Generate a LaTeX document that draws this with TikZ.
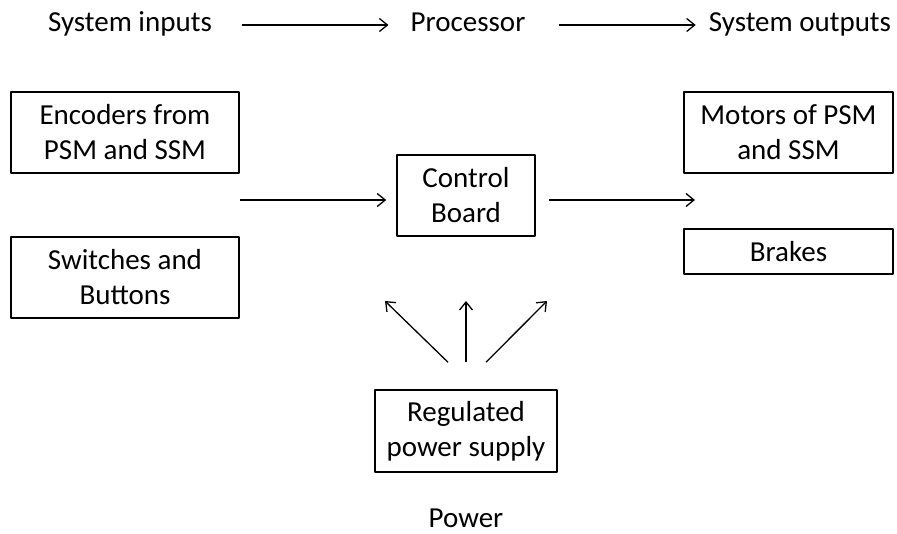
\documentclass[tikz,border=0pt]{standalone}
\usepackage{fontspec}
\setmainfont{Carlito}
\usetikzlibrary{arrows.meta}
\begin{document}
\begin{tikzpicture}[x=1pt,y=-1pt,line join=round,>={Straight Barb[length=8pt,width=13pt]},
	font=\fontsize{29}{35}\selectfont,
	box/.style={draw,line width=1.5pt,align=center,inner sep=0pt},
	lbl/.style={inner sep=0pt,text height=20pt,text depth=7pt},
	link/.style={->,line width=1.3pt}]
	\useasboundingbox (0,0) rectangle (897,533);
	\path
	(240,200) coordinate (inmid)
	(695,200) coordinate (outmid)
	(385,301) coordinate (pl)
	(466,301) coordinate (pm)
	(547,301) coordinate (pr);
	% top row
	\node[lbl] (sysin) at (130,25) {System inputs};
	\node[lbl] (proc) at (468,25) {Processor};
	\node[lbl] (sysout) at (800,25) {System outputs};
	\draw[link,shorten <=30pt,shorten >=22pt] (sysin.east) -- (proc.west);
	\draw[link,shorten <=33pt,shorten >=13pt] (proc.east) -- (sysout.west);
	% boxes
	\node[box,minimum width=228pt,minimum height=81pt] (enc) at (125,132.5) {Encoders from\\PSM and SSM};
	\node[box,minimum width=228pt,minimum height=81pt] (sw) at (125,277.5) {Switches and\\Buttons};
	\node[box,minimum width=138pt,minimum height=81pt] (cb) at (466,195.5) {Control\\Board};
	\node[box,minimum width=209pt,minimum height=81pt] (mot) at (788.5,132.5) {Motors of PSM\\and SSM};
	\node[box,minimum width=209pt,minimum height=45pt] (brk) at (788.5,251.5) {Brakes};
	\node[box,minimum width=182pt,minimum height=82pt] (pwr) at (466,431) {Regulated\\power supply};
	\node[inner sep=0pt] (power) at (466,518) {Power};
	% arrows
	\draw[link,shorten >=10pt] (inmid) -- (inmid -| cb.west);
	\draw[link,shorten <=13pt] (inmid -| cb.east) -- (outmid);
	\draw[link] ([xshift=-18pt,yshift=27pt]pwr.north) -- (pl);
	\draw[link] ([yshift=27pt]pwr.north) -- (pm);
	\draw[link] ([xshift=20pt,yshift=27pt]pwr.north) -- (pr);
\end{tikzpicture}
\end{document}
